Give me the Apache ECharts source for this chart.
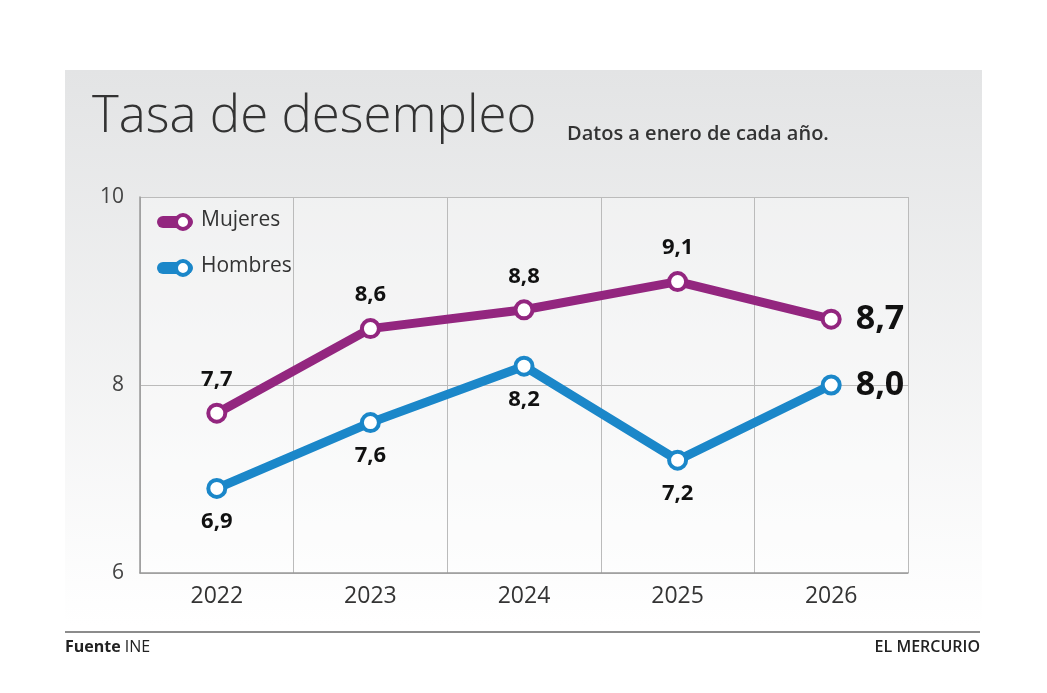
<!DOCTYPE html>
<html><head><meta charset="utf-8">
<script src="https://cdn.jsdelivr.net/npm/echarts@6/dist/echarts.min.js"></script>
<style>html,body{margin:0;background:#fff}#c{width:1047px;height:693px}</style>
</head><body><div id="c"></div>
<script>
var years = ['2022', '2023', '2024', '2025', '2026'];
var mujeres = [7.7, 8.6, 8.8, 9.1, 8.7];
var hombres = [6.9, 7.6, 8.2, 7.2, 8.0];
var yTicks = [6, 8, 10];

var PURPLE = '#93267f', BLUE = '#1b87c9';
var fmt = function (v) { return v.toFixed(1).replace('.', ','); };

function mkSeries(name, data, color, pos) {
  return {
    name: name, type: 'line', data: data.map(function (v, i) {
      var d = { value: v };
      if (i === data.length - 1) d.label = { position: 'right', fontSize: 34, distance: 14, color: '#111' };
      return d;
    }),
    symbol: 'circle', symbolSize: 17,
    lineStyle: { color: color, width: 9 },
    itemStyle: { color: '#fff', borderColor: color, borderWidth: 4 },
    label: {
      show: true, position: pos, distance: 12, fontFamily: 'Open Sans', fontWeight: 'bold',
      fontSize: 22, color: '#111', formatter: function (p) { return fmt(p.value); }
    },
    z: 3
  };
}

function legendItem(y, color, text) {
  return {
    type: 'group', left: 157, top: y, children: [
      { type: 'rect', shape: { x: 0, y: 5, width: 36, height: 12, r: 6 }, style: { fill: color } },
      { type: 'circle', shape: { cx: 26, cy: 11, r: 7 }, style: { fill: '#fff', stroke: color, lineWidth: 4 } },
      { type: 'text', x: 44, y: -1, style: { text: text, font: '21px "Open Sans"', fill: '#333' } }
    ]
  };
}

var chart = echarts.init(document.getElementById('c'));
chart.setOption({
  animation: false,
  grid: { left: 140, right: 139, top: 197, bottom: 120 },
  xAxis: {
    type: 'category', data: years, boundaryGap: true,
    axisLine: { lineStyle: { color: '#999', width: 1.5 } }, axisTick: { show: false },
    axisLabel: { fontFamily: 'Open Sans', fontSize: 23, color: '#333', margin: 12 },
    splitLine: { show: true, lineStyle: { color: '#bbb' } }
  },
  yAxis: {
    type: 'value', min: yTicks[0], max: yTicks[yTicks.length - 1], interval: 2,
    axisLine: { show: true, lineStyle: { color: '#999', width: 1.5 } }, axisTick: { show: false },
    axisLabel: { fontFamily: 'Open Sans', fontSize: 21, color: '#444', margin: 16 },
    splitLine: { lineStyle: { color: '#bbb' } }
  },
  series: [mkSeries('Mujeres', mujeres, PURPLE, 'top'), mkSeries('Hombres', hombres, BLUE, 'bottom')],
  graphic: [
    { type: 'rect', z: -10, shape: { x: 65, y: 70, width: 917, height: 555 },
      style: { fill: new echarts.graphic.LinearGradient(0, 0, 0, 1, [{ offset: 0, color: '#e3e4e5' }, { offset: 1, color: '#ffffff' }]) } },
    { type: 'rect', z: -5, shape: { x: 140, y: 197, width: 768, height: 376 }, style: { fill: 'rgba(255,255,255,0.35)' } },
    { type: 'text', left: 92, top: 92, style: { text: 'Tasa de desempleo', font: '300 51px "Open Sans"', fill: '#333' } },
    { type: 'text', left: 567, top: 124, style: { text: 'Datos a enero de cada año.', font: '600 20px "Open Sans"', fill: '#333' } },
    legendItem(210, PURPLE, 'Mujeres'),
    legendItem(256, BLUE, 'Hombres'),
    { type: 'line', shape: { x1: 65, y1: 632, x2: 980, y2: 632 }, style: { stroke: '#666', lineWidth: 1.5 } },
    { type: 'text', left: 65, top: 639, style: { text: '{b|Fuente} INE', rich: { b: { fontWeight: 'bold', fontSize: 16, fontFamily: 'Open Sans' } }, font: '16px "Open Sans"', fill: '#222' } },
    { type: 'text', right: 67, top: 639, style: { text: 'EL MERCURIO', font: '600 16px "Open Sans"', fill: '#222' } }
  ]
});
</script></body></html>
